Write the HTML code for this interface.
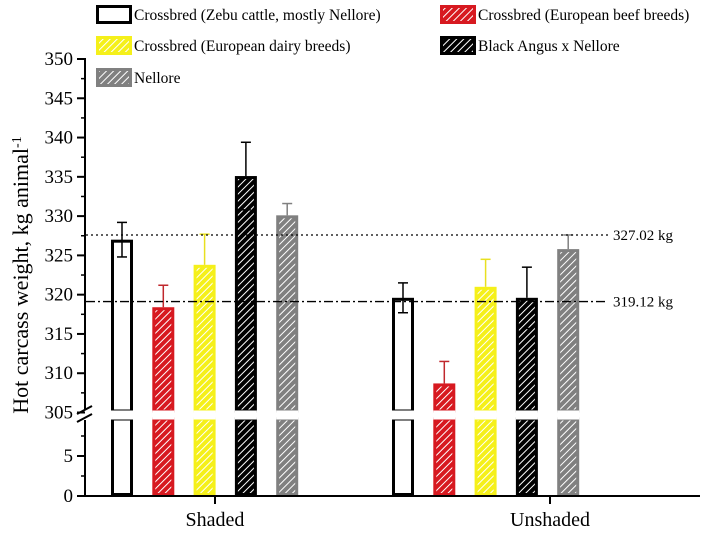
<!DOCTYPE html>
<html><head><meta charset="utf-8"><style>
body{margin:0;background:#fff}
svg{display:block;font-family:"Liberation Serif",serif}
</style></head><body>
<svg id="chart" width="708" height="535" viewBox="0 0 708 535">
<defs>
<pattern id="hRed" patternUnits="userSpaceOnUse" width="5" height="5" patternTransform="rotate(45)"><rect width="5" height="5" fill="#d71920"/><line x1="0" y1="0" x2="0" y2="5" stroke="#fff" stroke-width="2"/></pattern>
<pattern id="hYel" patternUnits="userSpaceOnUse" width="5" height="5" patternTransform="rotate(45)"><rect width="5" height="5" fill="#f5f01a"/><line x1="0" y1="0" x2="0" y2="5" stroke="#fff" stroke-width="2"/></pattern>
<pattern id="hBlk" patternUnits="userSpaceOnUse" width="5" height="5" patternTransform="rotate(45)"><rect width="5" height="5" fill="#000"/><line x1="0" y1="0" x2="0" y2="5" stroke="#fff" stroke-width="2"/></pattern>
<pattern id="hGry" patternUnits="userSpaceOnUse" width="5" height="5" patternTransform="rotate(45)"><rect width="5" height="5" fill="#808080"/><line x1="0" y1="0" x2="0" y2="5" stroke="#fff" stroke-width="2"/></pattern>
</defs>
<g id="plot"></g>
</svg>
<script>
const groups=["Shaded","Unshaded"];
const series=["Crossbred (Zebu cattle, mostly Nellore)","Crossbred (European beef breeds)","Crossbred (European dairy breeds)","Black Angus x Nellore","Nellore"];
const shadedVals=[327.0,318.4,323.8,335.1,330.1];
const unshadedVals=[319.6,308.7,321.0,319.6,325.8];
const shadedErr=[2.2,2.8,3.9,4.3,1.5];
const unshadedErr=[1.9,2.8,3.5,3.9,1.8];
const upperTicks=[305,310,315,320,325,330,335,340,345,350];
const lowerTicks=[0,5];
const refValues=[327.6,319.12];
const refLabels=["327.02 kg","319.12 kg"];

const NS="http://www.w3.org/2000/svg";
const g=document.getElementById('plot');
function el(t,a,p){const e=document.createElementNS(NS,t);for(const k in a)e.setAttribute(k,a[k]);(p||g).appendChild(e);return e;}
function yU(v){return 59+(350-v)*(412.5-59)/45;}
function yL(v){return 496-v*8;}
const fills=["#fff","url(#hRed)","url(#hYel)","url(#hBlk)","url(#hGry)"];
const strokes=["#000","#d71920","#f5f01a","#000","#808080"];
const errCol=["#000","#c0282d","#e8e020","#000","#808080"];
const groupStart=[111,392];
const step=41.3,bw=22;
function xBar(gi,si){return groupStart[gi]+si*step;}
const vals=[shadedVals,unshadedVals],errs=[shadedErr,unshadedErr];
const breakTop=411,breakBot=419;
for(let gi=0;gi<2;gi++)for(let si=0;si<5;si++){
 const x=xBar(gi,si),v=vals[gi][si],yt=yU(v);
 const b=el('g',{});
 
 
 const sw=3;
 el('rect',{x:x+sw/2,y:yt+sw/2,width:bw-sw,height:breakTop-yt-sw/2,fill:fills[si],stroke:strokes[si],'stroke-width':sw},b);
 el('rect',{x:x+sw/2,y:breakBot,width:bw-sw,height:496-breakBot-sw/2,fill:fills[si],stroke:strokes[si],'stroke-width':sw},b);
 el('rect',{x:x,y:breakTop-0.5,width:bw,height:breakBot-breakTop+1,fill:'#fff'},b);
 const cx=x+bw/2,ye=yU(v+errs[gi][si]),yb=yU(v-errs[gi][si]);
 const e=el('g',{stroke:errCol[si],'stroke-width':1.5});
 
 
 el('line',{x1:cx,y1:ye,x2:cx,y2:si==0?yb:yt},e);
 el('line',{x1:cx-5,y1:ye,x2:cx+5,y2:ye},e);
 if(si==0||si==3)el('line',{x1:cx-5,y1:yb,x2:cx+5,y2:yb},e);
}
refValues.forEach((r,i)=>{
 const y=yU(r);
 const l=el('line',{x1:86,y1:y,x2:608,y2:y,stroke:'#000','stroke-width':1.3,'stroke-dasharray':i==0?'2,3':'9,3,2,3'});
 
 
 const t=el('text',{x:613,y:y+5,'font-size':15});t.textContent=refLabels[i];
 
 
});
const ax=el('g',{stroke:'#000','stroke-width':2});


el('line',{x1:85,y1:58,x2:85,y2:410},ax);
el('line',{x1:85,y1:420,x2:85,y2:497},ax);
el('line',{x1:77,y1:414,x2:92,y2:406},ax);
el('line',{x1:77,y1:422,x2:92,y2:414},ax);
upperTicks.forEach(v=>{const y=yU(v);el('line',{x1:77,y1:y,x2:85,y2:y},ax);
 const t=el('text',{x:73,y:y+6,'font-size':19,'text-anchor':'end',stroke:'none',fill:'#000'});t.textContent=v;
 
 
 if(v<350){const ym=yU(v+2.5);el('line',{x1:81,y1:ym,x2:85,y2:ym,'stroke-width':1.5},ax);}});
lowerTicks.forEach(v=>{const y=yL(v);el('line',{x1:77,y1:y,x2:85,y2:y},ax);
 const t=el('text',{x:73,y:y+6,'font-size':19,'text-anchor':'end',stroke:'none',fill:'#000'});t.textContent=v;
 
 
 const ym=yL(v+2.5);el('line',{x1:81,y1:ym,x2:85,y2:ym,'stroke-width':1.5},ax);});
const xa=el('g',{stroke:'#000','stroke-width':2});


el('line',{x1:84,y1:496,x2:700,y2:496},xa);
[215,550].forEach((x,i)=>{el('line',{x1:x,y1:496,x2:x,y2:504},xa);
 const t=el('text',{x:x,y:526,'font-size':20,'text-anchor':'middle',stroke:'none',fill:'#000'});t.textContent=groups[i];
 
 });
const yt=el('text',{x:0,y:0,'font-size':22,'text-anchor':'middle',transform:'translate(28,275) rotate(-90)'});
yt.innerHTML='Hot carcass weight, kg animal<tspan dy="-7" font-size="14">-1</tspan>';


const legPos=[[96,15],[440,15],[96,46],[440,46],[96,78]];
const leg=el('g',{});


series.forEach((s,i)=>{const [x,y]=legPos[i];
 const e=el('g',{},leg);
 
 
 el('rect',{x:x+1.5,y:y-8.5,width:33,height:16,fill:fills[i],stroke:i==0||i==3?'#000':strokes[i],'stroke-width':3},e);
 const t=el('text',{x:x+38,y:y+5,'font-size':15.5},e);t.textContent=s;});
</script>
</body></html>
